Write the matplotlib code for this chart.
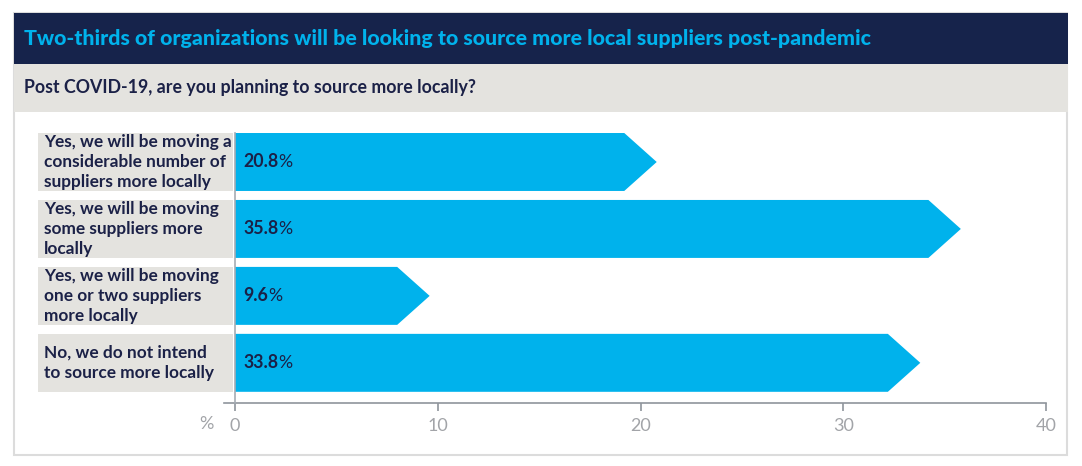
import matplotlib
matplotlib.use("Agg")
from matplotlib import pyplot as plt
from matplotlib.patches import Rectangle, Polygon

# data
categories = [
    "Yes, we will be moving a\nconsiderable number of\nsuppliers more locally",
    "Yes, we will be moving\nsome suppliers more\nlocally",
    "Yes, we will be moving\none or two suppliers\nmore locally",
    "No, we do not intend\nto source more locally",
]
values = [20.8, 35.8, 9.6, 33.8]
x_ticks = [0, 10, 20, 30, 40]
title = "Two-thirds of organizations will be looking to source more local suppliers post-pandemic"
subtitle = "Post COVID-19, are you planning to source more locally?"

NAVY = "#16234b"
CYAN = "#00b2ec"
BAND = "#e4e3df"
TEXT = "#1b2147"
GREY = "#a2a4a8"
AXIS = "#8f959c"

W, H = 1082, 466
plt.rcParams["font.family"] = ["Lato", "DejaVu Sans"]

fig = plt.figure(figsize=(W / 100, H / 100), dpi=100)


def fx(px):
    return px / W


def fy(py):
    # py measured from the top of the picture
    return 1 - py / H


def fig_rect(x0, y0, x1, y1, **kw):
    fig.add_artist(Rectangle((fx(x0), fy(y1)), fx(x1) - fx(x0), fy(y0) - fy(y1),
                             transform=fig.transFigure, **kw))


# outer frame, title bar and question band
fig_rect(14, 13, 1067, 455, facecolor="none", edgecolor="#dcdcdc", linewidth=1.5)
fig_rect(14, 13, 1068, 64, facecolor=NAVY, edgecolor="none")
fig_rect(14, 64, 1068, 112, facecolor=BAND, edgecolor="none")
fig.text(fx(24), fy(39), title, color=CYAN, fontsize=15.4, fontweight="black",
         va="center", ha="left")
fig.text(fx(24), fy(88), subtitle, color=TEXT, fontsize=12.8, fontweight="bold",
         va="center", ha="left")

# axes: x=0 at 235px, x=40 at 1046px
ppu = (1046 - 235) / 40
x_left = -(235 - 224) / ppu
ax = fig.add_axes([fx(224), fy(403), fx(1046) - fx(224), fy(133) - fy(403)])
ax.set_xlim(x_left, 40)
ax.set_ylim(3.6, -0.433)
ax.patch.set_alpha(0)

bar_h = 58 / 67
head = 1.6
for i, (cat, v) in enumerate(zip(categories, values)):
    top, bot = i - bar_h / 2, i + bar_h / 2
    pts = [(0, top), (v - head, top), (v, i), (v - head, bot), (0, bot)]
    ax.add_patch(Polygon(pts, closed=True, facecolor=CYAN, edgecolor="none", zorder=2))
    # grey label box on the left
    box_x0 = (38 - 235) / ppu
    box_x1 = (233 - 235) / ppu
    ax.add_patch(Rectangle((box_x0, top), box_x1 - box_x0, bar_h, facecolor=BAND,
                           edgecolor="none", clip_on=False, zorder=1))
    ax.text((44 - 235) / ppu, i, cat, color=TEXT, fontsize=12.4, fontweight="bold",
            va="center", ha="left", linespacing=1.3, clip_on=False)
    num = ax.text((243 - 235) / ppu, i, f"{v:.1f}", color=TEXT, fontsize=12.8,
                  fontweight="bold", va="center", ha="left", zorder=3)
    ax.annotate("%", xy=(1, 0), xycoords=num, color=TEXT, fontsize=12.8,
                va="bottom", ha="left", zorder=3)

for s in ["top", "right"]:
    ax.spines[s].set_visible(False)
ax.spines["bottom"].set_color(AXIS)
ax.spines["bottom"].set_linewidth(1.2)
ax.spines["left"].set_position(("data", 0))
ax.spines["left"].set_color("#a6adb4")
ax.spines["left"].set_linewidth(1.2)
ax.spines["left"].set_zorder(4)
ax.set_yticks([])
ax.set_xticks(x_ticks)
ax.tick_params(axis="x", direction="out", length=6, width=1.2, color=AXIS,
               labelcolor=GREY, labelsize=13, pad=5)
# unit label on the same line as the tick labels
ax.text(x_left - (224 - 214) / ppu, -13 / 270, "%", transform=ax.get_xaxis_transform(),
        color=GREY, fontsize=13, ha="right", va="top")

fig.savefig("out.png", dpi=100)
